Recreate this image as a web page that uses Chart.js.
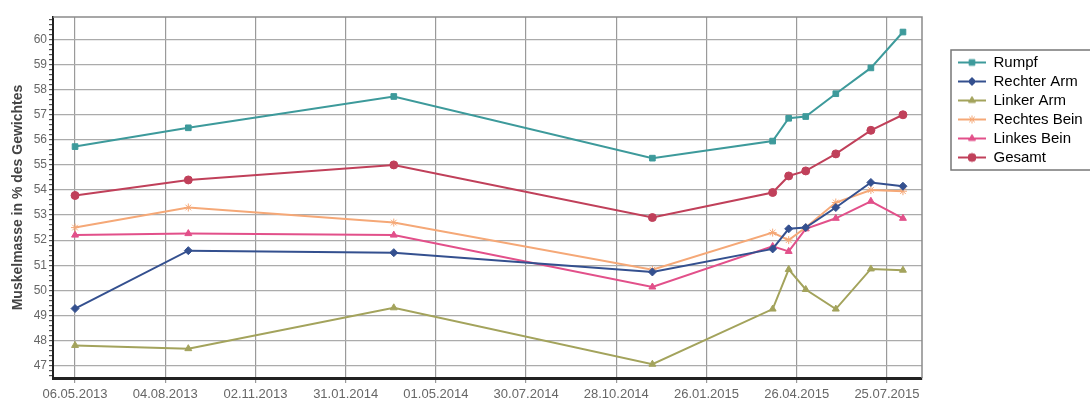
<!DOCTYPE html>
<html>
<head>
<meta charset="utf-8">
<script src="https://cdn.jsdelivr.net/npm/chart.js@4/dist/chart.umd.min.js"></script>
<style>
  html, body { margin: 0; padding: 0; background: #fff; }
  #wrap { width: 1090px; height: 403px; position: relative; }
</style>
</head>
<body>
<div id="wrap"><canvas id="myChart"></canvas></div>
<script>
// measurement dates (dd.mm.yyyy)
const dates = ['06.05.2013', '27.08.2013', '20.03.2014', '03.12.2014', '02.04.2015',
               '18.04.2015', '05.05.2015', '04.06.2015', '09.07.2015', '10.08.2015'];

// x axis tick labels, 90 days apart
const tickLabels = ['06.05.2013', '04.08.2013', '02.11.2013', '31.01.2014', '01.05.2014',
                    '30.07.2014', '28.10.2014', '26.01.2015', '26.04.2015', '25.07.2015'];

const seriesNames = ['Rumpf', 'Rechter Arm', 'Linker Arm', 'Rechtes Bein', 'Linkes Bein', 'Gesamt'];

// Muskelmasse in % des Gewichtes
const rumpf       = [55.73, 56.48, 57.73, 55.27, 55.95, 56.86, 56.93, 57.84, 58.87, 60.30];
const rechterArm  = [49.27, 51.58, 51.50, 50.73, 51.65, 52.45, 52.50, 53.30, 54.30, 54.15];
const linkerArm   = [47.80, 47.67, 49.30, 47.05, 49.25, 50.83, 50.03, 49.25, 50.85, 50.80];
const rechtesBein = [52.50, 53.30, 52.70, 50.82, 52.30, 52.00, 52.50, 53.50, 54.00, 53.95];
const linkesBein  = [52.20, 52.26, 52.20, 50.13, 51.75, 51.55, 52.45, 52.87, 53.55, 52.87];
const gesamt      = [53.78, 54.40, 55.00, 52.90, 53.90, 54.56, 54.76, 55.44, 56.38, 57.00];

const colors = ['#3d9a9b', '#34508f', '#a3a35c', '#f5a877', '#e2508a', '#c0405a'];
const markers = ['rect', 'rectRot', 'triangle', 'star', 'triangle', 'circle'];

// days since first tick, so a linear axis can stand in for a time axis
const dayOf = (s) => {
    const [d, m, y] = s.split('.').map(Number);
    return (Date.UTC(y, m - 1, d) - Date.UTC(2013, 4, 6)) / 86400000;
};

// little line+marker picture for the legend
const glyph = (color, style) => {
    const c = document.createElement('canvas');
    c.width = 28; c.height = 12;
    const g = c.getContext('2d');
    g.strokeStyle = color; g.fillStyle = color; g.lineWidth = 2;
    g.beginPath(); g.moveTo(0, 6); g.lineTo(28, 6); g.stroke();
    g.lineWidth = 1;
    Chart.helpers.drawPoint(g, {pointStyle: style, radius: 4, rotation: 0, borderWidth: 1}, 14, 6);
    return c;
};

const values = [rumpf, rechterArm, linkerArm, rechtesBein, linkesBein, gesamt];
const datasets = seriesNames.map((name, i) => ({
    label: name,
    data: dates.map((d, j) => ({x: dayOf(d), y: values[i][j]})),
    borderColor: colors[i],
    backgroundColor: colors[i],
    borderWidth: 2,
    pointStyle: markers[i],
    pointRadius: 4,
    pointBorderWidth: 1,
    tension: 0
}));

// frame + legend placement
const framePlugin = {
    id: 'frame',
    beforeLayout(chart) {
        const lg = chart.legend;
        if (lg && !lg._patched) {
            const fit = lg.fit.bind(lg);
            lg.fit = function () { fit(); this.width = 168; };
            lg._patched = true;
        }
    },
    afterLayout(chart) {
        const lg = chart.legend;
        lg.left += 32; lg.right += 32;
        lg.top = 51;
    },
    beforeDatasetsDraw(chart) {
        const {ctx, chartArea: a} = chart;
        ctx.save();
        ctx.strokeStyle = '#8a8a8a';
        ctx.lineWidth = 1.5;
        ctx.beginPath();
        ctx.moveTo(a.left, a.top); ctx.lineTo(a.right, a.top); ctx.lineTo(a.right, a.bottom);
        ctx.stroke();
        ctx.restore();
    },
    afterDraw(chart) {
        const lg = chart.legend;
        const lab = lg.options.labels;
        const h = lab.padding + lg.legendItems.length * (lab.font.size + lab.padding) + 2;
        const ctx = chart.ctx;
        ctx.save();
        ctx.strokeStyle = '#777';
        ctx.lineWidth = 1.5;
        ctx.strokeRect(lg.left - 3, lg.top - 1, 200, h);
        ctx.restore();
    }
};

new Chart(document.getElementById('myChart'), {
    type: 'line',
    data: {datasets},
    plugins: [framePlugin],
    options: {
        responsive: true,
        maintainAspectRatio: false,
        animation: false,
        layout: {padding: {left: 10, top: 17, right: 0, bottom: 0}},
        plugins: {
            tooltip: {enabled: false},
            legend: {
                position: 'right',
                align: 'start',
                labels: {
                    usePointStyle: true,
                    pointStyleWidth: 28,
                    padding: 4,
                    color: '#333',
                    font: {family: 'Liberation Sans, Arial, sans-serif', size: 15},
                    generateLabels: (chart) => chart.data.datasets.map((ds, i) => ({
                        text: ds.label,
                        pointStyle: glyph(colors[i], markers[i]),
                        fillStyle: colors[i],
                        strokeStyle: colors[i],
                        lineWidth: 0,
                        hidden: false,
                        datasetIndex: i
                    }))
                }
            }
        },
        scales: {
            x: {
                type: 'linear',
                min: -22,
                max: 845,
                afterBuildTicks: (scale) => {
                    scale.ticks = tickLabels.map(t => ({value: dayOf(t)}));
                },
                afterFit: (scale) => { scale.height = 25; },
                ticks: {
                    callback: (v, i) => tickLabels[i],
                    color: '#666',
                    padding: 4,
                    maxRotation: 0,
                    autoSkip: false,
                    font: {family: 'Liberation Sans, Arial, sans-serif', size: 13}
                },
                grid: {color: '#9a9a9a', lineWidth: 1.2, tickLength: 5, tickColor: '#9a9a9a'},
                border: {color: '#222', width: 3}
            },
            y: {
                min: 46.5,
                max: 60.9,
                afterBuildTicks: (scale) => {
                    const t = [];
                    for (let i = 233; i <= 304; i++) t.push({value: i / 5});
                    scale.ticks = t;
                },
                afterFit: (scale) => { scale.width = 43; },
                ticks: {
                    callback: (v) => Number.isInteger(v) ? v : '',
                    color: '#666',
                    padding: 2,
                    autoSkip: false,
                    font: {family: 'Liberation Sans, Arial, sans-serif', size: 12}
                },
                grid: {
                    color: (c) => Number.isInteger(c.tick.value) ? '#ababab' : 'rgba(0,0,0,0)',
                    lineWidth: 1.2,
                    tickLength: 4,
                    tickColor: '#555'
                },
                border: {color: '#222', width: 2},
                title: {
                    display: true,
                    text: 'Muskelmasse in % des Gewichtes',
                    color: '#444',
                    padding: 0,
                    font: {family: 'Liberation Sans, Arial, sans-serif', size: 14, weight: 'bold'}
                }
            }
        }
    }
});
</script>
</body>
</html>
